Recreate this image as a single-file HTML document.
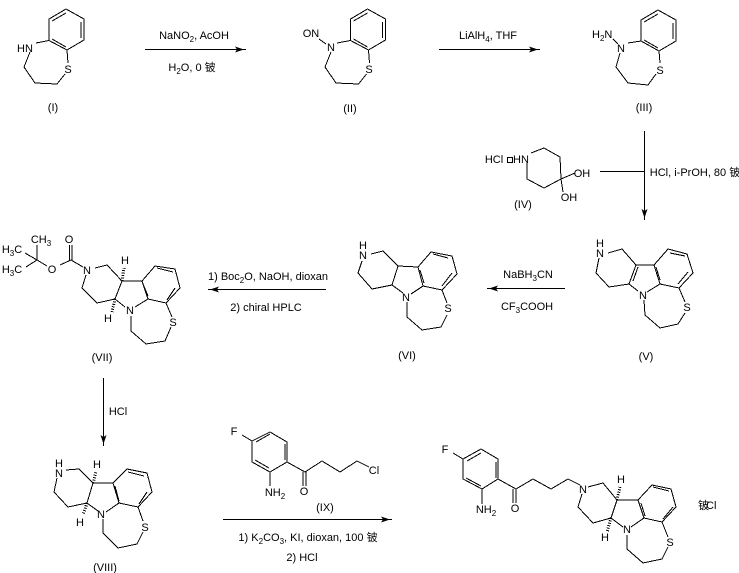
<!DOCTYPE html>
<html lang="en"><head><meta charset="utf-8"><title>Reaction scheme</title>
<style>
html,body{margin:0;padding:0;background:#fff}
svg{display:block}
text{font-family:"Liberation Sans","Noto Sans CJK SC",sans-serif;font-size:11px;fill:#000;text-anchor:middle}
.b{fill:none;stroke:#000;stroke-width:1;shape-rendering:crispEdges}
.h{fill:none;stroke:#000;stroke-width:3;stroke-dasharray:1 1.5;shape-rendering:crispEdges}
.s{font-size:8px}
</style></head><body>
<svg width="739" height="573" viewBox="0 0 739 573" xmlns="http://www.w3.org/2000/svg">
<rect width="739" height="573" fill="#fff"/>

<!-- I -->
<path class="b" d="M66 9L84 19V40L67 50L49 40.5V19ZM52 21L66 13M81 22V38M52 39L66 47M36 43L49 40.5M30 52L24 67L35 83L57 84L65 74M68 63L67 50"/>
<text x="25" y="52">HN</text><text x="68" y="73">S</text><text x="53" y="111">(I)</text>

<!-- II -->
<path class="b" d="M367.500 9L385.500 19V40L368.500 50L350.500 40.500V19ZM353.500 21L367.500 13M382.500 22V38M353.500 39L367.500 47M337 43L350.500 40.500M331 52L325 67L336 83L358.500 84L366.500 74M369.500 63L368.500 50M319 39L326 44"/>
<text x="331" y="51">N</text><text x="369" y="73">S</text><text x="311" y="37">ON</text><text x="350" y="112">(II)</text>

<!-- III -->
<path class="b" d="M658 10L676 20V41L659 51L641 41V20ZM644 22L658 14M673 23V39M644 40L658 48M628 43L641 41M620 53L616 67L628 83L648 85L656 74M660 63L659 51M613 39L618 44"/>
<text x="621" y="52">N</text><text x="660" y="74">S</text><text x="592" y="38" style="text-anchor:start">H<tspan class="s" dy="3">2</tspan><tspan dy="-3">N</tspan></text><text x="644" y="111">(III)</text>

<!-- Arrows top -->
<path class="b" d="M145 49.500H246M439 49.500H540"/>
<polygon points="244,49.500 235,46.500 237,49.500 235,52.500"/><polygon points="538,49.500 529,46.500 531,49.500 529,52.500"/>
<text x="194" y="39">NaNO<tspan class="s" dy="3">2</tspan><tspan dy="-3">, AcOH</tspan></text>
<text x="192" y="71">H<tspan class="s" dy="3">2</tspan><tspan dy="-3">O, 0 铍</tspan></text>
<text x="488" y="39">LiAlH<tspan class="s" dy="3">4</tspan><tspan dy="-3">, THF</tspan></text>

<!-- IV -->
<path class="b" d="M531 153L544 148L560 157L561 179L544 188L527 179V163M561 179L575 173M561 179L563 192"/>
<text x="494" y="163">HCl</text><rect x="507.500" y="157.500" width="5" height="5" fill="none" stroke="#000"/>
<text x="521" y="163">HN</text><text x="582" y="177">OH</text><text x="569" y="201">OH</text><text x="523" y="208">(IV)</text>

<!-- vertical arrow -->
<path class="b" d="M644.500 131V220M600 171.500H644.500"/>
<polygon points="644.500,218 641.500,209 644.500,211 647.500,209"/>
<text x="695" y="176">HCl, i-PrOH, 80 铍</text>

<!-- V -->
<path class="b" d="M608 253L622 249L636 265H654L668 249L687 254L693 273L679 288L660 284L654 265M660 284L647 292M636 265L629 284L638 291M629 284L609 287L596 273L599 258M638 267L633 281M656 267L660 280M670 253L685 256M688 272L678 284M644 300L645 315L660 328L678 324L685 313M679 288L685 302"/>
<text x="600" y="247">H</text><text x="600" y="257">N</text><text x="643" y="299">N</text><text x="687" y="311">S</text><text x="646" y="360">(V)</text>

<!-- V->VI arrow -->
<path class="b" d="M487 288.500H565"/><polygon points="489,288.500 498,285.500 496,288.500 498,291.500"/>
<text x="528" y="278">NaBH<tspan class="s" dy="3">3</tspan><tspan dy="-3">CN</tspan></text>
<text x="527" y="310">CF<tspan class="s" dy="3">3</tspan><tspan dy="-3">COOH</tspan></text>

<!-- VI -->
<path class="b" d="M371 254L383 251L398 266L418 267L431 252L452 256L457 274L442 290L423 286L418 267M423 286L411 294M398 266L392 285L403 293M392 285L372 289L358 273L362 261M420 270L424 283M433 254L448 258M452 273L442 286M407 302V317L422 330L441 327L447 315M442 290L447 303"/>
<text x="363" y="249">H</text><text x="363" y="259">N</text><text x="406" y="301">N</text><text x="448" y="312">S</text><text x="407" y="359">(VI)</text>

<!-- VI->VII arrow -->
<path class="b" d="M208 289.500H326"/><polygon points="210,289.500 219,286.500 217,289.500 219,292.500"/>
<text x="268" y="280">1) Boc<tspan class="s" dy="3">2</tspan><tspan dy="-3">O, NaOH, dioxan</tspan></text>
<text x="266" y="311">2) chiral HPLC</text>

<!-- VII -->
<path class="b" d="M37 260V245M37 260L25 253M37 260L26 267M37 260L47 266M60 265L71 260M69.500 245V260M72 245V260M71 260L83 267M95 268L107 265L122 281H142L155 266L175 269L180 288L166 303L148 299L142 281M122 281L115 299L97 303L82 288L86 275M115 299L125 307M148 299L135 307M131 316V331L146 344L165 341L171 327M166 303L172 317M143 284L148 296M157 268L173 272M175 288L167 300"/>
<line class="h" x1="122" y1="281" x2="124" y2="268"/><line class="h" x1="115" y1="299" x2="112" y2="312"/>
<text x="41" y="243">CH<tspan class="s" dy="3">3</tspan></text>
<text x="12" y="253">H<tspan class="s" dy="3">3</tspan><tspan dy="-3">C</tspan></text>
<text x="12" y="273">H<tspan class="s" dy="3">3</tspan><tspan dy="-3">C</tspan></text>
<text x="52" y="273">O</text><text x="69" y="243">O</text><text x="87" y="274">N</text>
<text x="125" y="264">H</text><text x="108" y="322">H</text><text x="130" y="314">N</text><text x="173" y="326">S</text><text x="102" y="361">(VII)</text>

<!-- VII->VIII -->
<path class="b" d="M103.500 378V446"/><polygon points="103.500,444 100.500,435 103.500,437 106.500,435"/>
<text x="118" y="415">HCl</text>

<!-- VIII -->
<path class="b" d="M66 470L79 469L93 483H113L127 469L147 473L152 492L138 507L119 503L113 483M119 503L106 512M93 483L87 503L98 511M87 503L68 507L54 492L57 478M115 486L119 501M128 472L144 476M147 492L139 504M103 519V533L118 548L137 544L143 532M138 507L143 521"/>
<line class="h" x1="93" y1="483" x2="96" y2="472"/><line class="h" x1="87" y1="503" x2="83" y2="515"/>
<text x="59" y="467">H</text><text x="59" y="477">N</text><text x="97" y="468">H</text><text x="80" y="526">H</text><text x="101" y="518">N</text><text x="145" y="531">S</text><text x="105" y="571">(VIII)</text>

<!-- IX -->
<path class="b" d="M242 435L252 441L270 432L287 442V462L270 472L252 462V441ZM256 442L270 434M285 444V460M255 460L269 468M270 472V486M287 462L305 472L322 461L340 472L357 461L369 467M303 472V486M306 472V486"/>
<text x="234" y="435">F</text><text x="275" y="496">NH<tspan class="s" dy="3">2</tspan></text><text x="304" y="495">O</text><text x="374" y="474">Cl</text><text x="325" y="511">(IX)</text>

<!-- VIII->final arrow -->
<path class="b" d="M223 519.500H392"/><polygon points="390,519.500 381,516.500 383,519.500 381,522.500"/>
<text x="308" y="541">1) K<tspan class="s" dy="3">2</tspan><tspan dy="-3">CO</tspan><tspan class="s" dy="3">3</tspan><tspan dy="-3">, KI, dioxan, 100 铍</tspan></text>
<text x="302" y="561">2) HCl</text>

<!-- Final -->
<path class="b" d="M453 453L463 459L481 449L498 459V479L482 489L463 479V459ZM467 461L481 453M496 462V478M466 478L481 486M482 489V504M498 479L516 489L533 479L551 489L568 479L580 485M588 487L603 483L617 500H638L652 485L671 489L676 507L662 522L644 518L638 500M617 500L611 518L593 523L578 507L582 494M611 518L623 527M644 518L631 527M513 489V503M516 489V503M641 503L645 516M653 487L669 491M673 507L663 519M627 535V549L643 563L662 559L668 547M662 522L668 537"/>
<line class="h" x1="617" y1="500" x2="620" y2="487"/><line class="h" x1="611" y1="518" x2="607" y2="532"/>
<text x="445" y="453">F</text><text x="486" y="513">NH<tspan class="s" dy="3">2</tspan></text><text x="515" y="512">O</text><text x="583" y="493">N</text>
<text x="621" y="483">H</text><text x="605" y="541">H</text><text x="627" y="533">N</text><text x="670" y="546">S</text>
<text x="698" y="509" style="text-anchor:start">铍<tspan dx="-3">Cl</tspan></text>
</svg>
</body></html>
